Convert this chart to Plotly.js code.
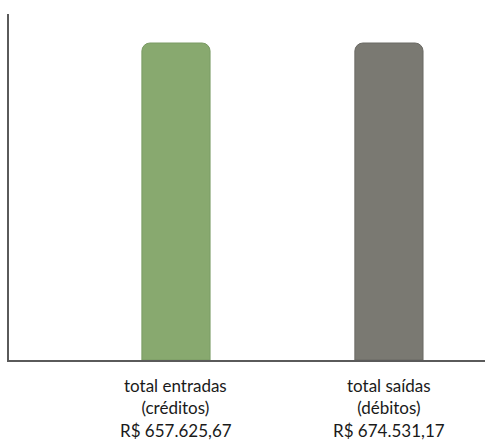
<!DOCTYPE html>
<html>
<head>
<meta charset="utf-8">
<script src="https://cdn.plot.ly/plotly-3.0.1.min.js"></script>
<style>html,body{margin:0;padding:0;background:#fff;}#chart{width:485px;height:441px;}</style>
</head>
<body>
<div id="chart"></div>
<script>
var categories = ["total entradas<br>(créditos)", "total saídas<br>(débitos)"];
var valueLabels = ["R$ 657.625,67", "R$ 674.531,17"];
var barHeights = [1, 1];
var barColors = ["#88a96f", "#7a7972"];
var lineColors = ["#7b9b64", "#6b6a64"];

var positions = categories.map(function(_, i){ return i; });

var trace = {
  type: "bar",
  x: positions,
  y: barHeights,
  width: 0.32,
  marker: {color: barColors, line: {color: lineColors, width: 1}},
  hoverinfo: "skip"
};

var fnt = {family: "Lato", size: 17, color: "#1a1a1a"};
var annotations = [];
function addLine(texts, py){
  texts.forEach(function(t, i){
    annotations.push({x: i, xref: "x", y: (360 - py) / 346, yref: "paper", yanchor: "middle", xanchor: "center",
      text: t, showarrow: false, font: fnt});
  });
}
addLine(categories, 396);
addLine(valueLabels, 430);

var layout = {
  width: 485, height: 441,
  margin: {l: 9, r: 0, t: 14, b: 81},
  paper_bgcolor: "#fff", plot_bgcolor: "#fff",
  showlegend: false,
  barcornerradius: 8,
  xaxis: {range: [-0.784, 1.451], showline: true, linecolor: "#5a5a5a", linewidth: 2,
    showgrid: false, zeroline: false, showticklabels: false, ticks: ""},
  yaxis: {range: [0, 1.0915], showline: true, linecolor: "#5a5a5a", linewidth: 2,
    showgrid: false, zeroline: false, showticklabels: false, ticks: ""},
  annotations: annotations
};

Plotly.newPlot("chart", [trace], layout, {staticPlot: true, displayModeBar: false});
</script>
</body>
</html>
